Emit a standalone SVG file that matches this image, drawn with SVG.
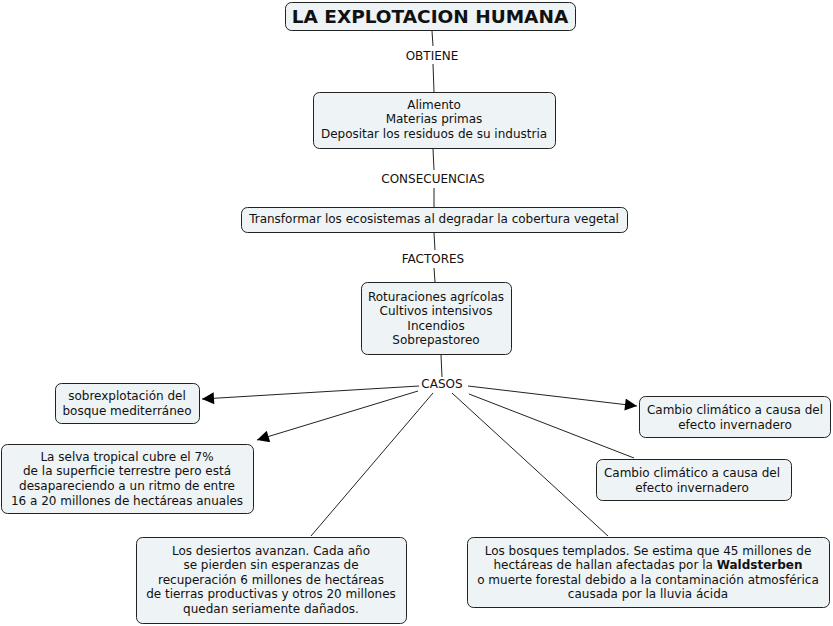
<svg xmlns="http://www.w3.org/2000/svg" width="833" height="626" viewBox="0 0 833 626">
<defs>
<style>
.box{fill:#eef3f5;stroke:#222;stroke-width:1}
text{font-family:"DejaVu Sans",Verdana,sans-serif;font-size:12px;fill:#111;text-anchor:middle}
.title{font-size:18.5px;font-weight:bold}
.c{stroke:#222;stroke-width:1;fill:none}
</style>
<marker id="arr" viewBox="0 0 10 10" refX="10" refY="5" markerWidth="14" markerHeight="12" markerUnits="userSpaceOnUse" orient="auto">
<path d="M0,0 L10,5 L0,10 z" fill="#000"/>
</marker>
</defs>
<rect width="833" height="626" fill="#fff"/>
<g id="connectors">
<line class="c" x1="432" y1="31" x2="433" y2="46"/>
<line class="c" x1="433" y1="64" x2="434" y2="92"/>
<line class="c" x1="433" y1="149" x2="434" y2="170"/>
<line class="c" x1="434" y1="188" x2="434" y2="207"/>
<line class="c" x1="434" y1="233" x2="435" y2="250"/>
<line class="c" x1="434" y1="268" x2="435" y2="282"/>
<line class="c" x1="441" y1="355" x2="442" y2="377"/>
<line class="c" x1="419" y1="386" x2="202" y2="399" marker-end="url(#arr)"/>
<line class="c" x1="418" y1="391" x2="257" y2="440" marker-end="url(#arr)"/>
<line class="c" x1="433" y1="393" x2="311" y2="536"/>
<line class="c" x1="452" y1="393" x2="608" y2="536"/>
<line class="c" x1="468" y1="386" x2="637" y2="406" marker-end="url(#arr)"/>
<line class="c" x1="469" y1="394" x2="634" y2="458"/>
<text x="432" y="60">OBTIENE</text>
<text x="433" y="183">CONSECUENCIAS</text>
<text x="433" y="263">FACTORES</text>
<text x="442" y="388">CASOS</text>
</g>
<g id="n-title">
<rect class="box" x="285.5" y="2.5" width="290" height="28" rx="6"/>
<text class="title" x="430" y="23">LA EXPLOTACION HUMANA</text>
</g>
<g id="n-obtiene">
<rect class="box" x="313.5" y="92.5" width="242" height="56" rx="6"/>
<text x="434" y="109">Alimento</text>
<text x="434" y="123">Materias primas</text>
<text x="434" y="138">Depositar los residuos de su industria</text>
</g>
<g id="n-transformar">
<rect class="box" x="241.5" y="207.5" width="386" height="25" rx="6"/>
<text x="434" y="223">Transformar los ecosistemas al degradar la cobertura vegetal</text>
</g>
<g id="n-factores">
<rect class="box" x="361.5" y="282.5" width="150" height="72" rx="6"/>
<text x="436" y="301">Roturaciones agrícolas</text>
<text x="436" y="315">Cultivos intensivos</text>
<text x="436" y="330">Incendios</text>
<text x="436" y="344">Sobrepastoreo</text>
</g>
<g id="n-mediterraneo">
<rect class="box" x="55.5" y="383.5" width="144" height="40" rx="6"/>
<text x="127" y="400">sobrexplotación del</text>
<text x="127" y="415">bosque mediterráneo</text>
</g>
<g id="n-selva">
<rect class="box" x="1.5" y="444.5" width="252" height="69" rx="6"/>
<text x="127" y="461">La selva tropical cubre el 7%</text>
<text x="127" y="475">de la superficie terrestre pero está</text>
<text x="127" y="490">desapareciendo a un ritmo de entre</text>
<text x="127" y="505">16 a 20 millones de hectáreas anuales</text>
</g>
<g id="n-cambio1">
<rect class="box" x="639.5" y="396.5" width="191" height="41" rx="6"/>
<text x="735" y="414">Cambio climático a causa del</text>
<text x="735" y="429">efecto invernadero</text>
</g>
<g id="n-cambio2">
<rect class="box" x="596.5" y="459.5" width="195" height="41" rx="6"/>
<text x="692" y="477">Cambio climático a causa del</text>
<text x="692" y="492">efecto invernadero</text>
</g>
<g id="n-desiertos">
<rect class="box" x="136.5" y="537.5" width="270" height="86" rx="6"/>
<text x="271" y="555">Los desiertos avanzan. Cada año</text>
<text x="271" y="569">se pierden sin esperanzas de</text>
<text x="271" y="584">recuperación 6 millones de hectáreas</text>
<text x="271" y="598">de tierras productivas y otros 20 millones</text>
<text x="271" y="613">quedan seriamente dañados.</text>
</g>
<g id="n-bosques">
<rect class="box" x="467.5" y="537.5" width="362" height="70" rx="6"/>
<text x="648" y="555">Los bosques templados. Se estima que 45 millones de</text>
<text x="648" y="569">hectáreas de hallan afectadas por la <tspan font-weight="bold">Waldsterben</tspan></text>
<text x="648" y="584">o muerte forestal debido a la contaminación atmosférica</text>
<text x="648" y="598">causada por la lluvia ácida</text>
</g>
</svg>
